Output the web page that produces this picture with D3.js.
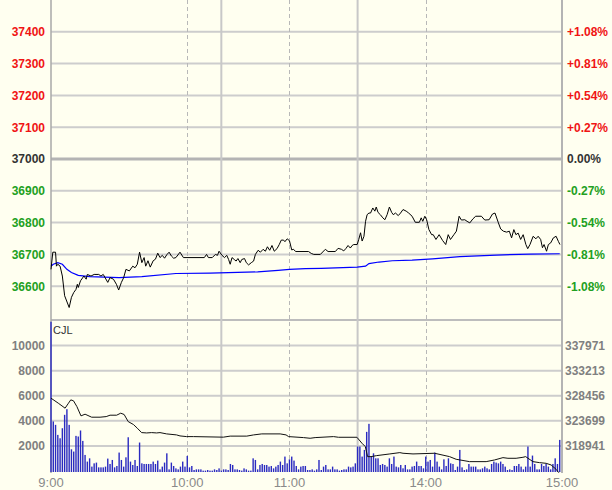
<!DOCTYPE html>
<html><head><meta charset="utf-8">
<script src="https://cdn.jsdelivr.net/npm/d3@7"></script>
<style>html,body{margin:0;padding:0;background:#fffff0;} svg{display:block;}</style>
</head><body><svg id="c" width="612" height="490"></svg>
<script>
// ---------- data ----------
const preClose = 37000;
const priceDomain = [36500, 37500];
const priceTicks = [37400, 37300, 37200, 37100, 37000, 36900, 36800, 36700, 36600];
const pctLabels = ["+1.08%", "+0.81%", "+0.54%", "+0.27%", "0.00%", "-0.27%", "-0.54%", "-0.81%", "-1.08%"];
const volDomain = [0, 12000];
const volTicks = [2000, 4000, 6000, 8000, 10000];
const oiDomain = [314183.5, 342728.5];
const oiTicks = [318941, 323699, 328456, 333213, 337971];
const minuteDomain = [0, 225];
const timeLabels = ["9:00", "10:00", "11:00", "14:00", "15:00"];
const timeLabelIdx = [0, 60, 105, 165, 225];
const dashedIdx = [60, 105, 165];
const sessionIdx = [75, 135];
const panelLabel = "CJL";

// price line (minute index, price)
const priceT = [0,0.8,2,2.4,3,4,5,6,8,9,10,11,11.6,12,13,14.5,15.5,16,17.6,19,21,22,23,25,26,27.5,28.8,29.8,31,32,33,34.5,36,37,38,39,40,41,41.7,42.7,43.7,45,46,47,48,49,50,51,52,53,54,55,56.8,58.3,67.5,68.5,69.3,71,72.4,73.3,74,75.3,76.4,77.4,78.2,78.9,79.7,80.7,81.5,82.3,83.3,84,85.2,86,87,88.2,89.2,90,91.2,92.2,93.4,94.4,95.3,96.3,97.3,98.3,99.5,100.5,101.4,102.4,103,104,105,106,106.7,107.8,113.4,114.6,115.7,118.6,120.8,122,125.2,126.4,127.9,128.9,129.9,130.8,131.8,132.6,133.3,134.8,135.5,136.3,137,137.8,138.5,139.2,140,140.7,141.7,142.6,143.2,144,145,146.1,147,148,149,150,150.7,151.7,152.9,153.9,155,156.4,157.5,159,160.4,162.2,163,163.7,164.6,165.4,166.4,167.6,168.3,169.5,170.9,172.4,173.8,174.9,175.9,177.4,178.5,179.7,180.7,182.2,183.2,184.4,185.8,187,189.5,191,192.9,194.4,195.5,197,198,199.2,200.6,201.8,202.8,203.8,204.7,205.7,206.8,207.9,209.1,209.9,210.9,212.3,213.5,214.5,215.6,216.4,217.1,218.2,219,220,221.2,222.4,223.4,224.1];
const priceV = [36653,36707,36707,36663,36669,36663,36632,36570,36533,36565,36580,36590,36606,36596,36617,36632,36622,36637,36632,36637,36637,36632,36637,36612,36627,36622,36606,36588,36612,36627,36653,36648,36663,36658,36669,36707,36674,36690,36663,36680,36660,36680,36685,36704,36690,36697,36688,36699,36707,36695,36688,36690,36707,36690,36690,36700,36690,36690,36700,36697,36710,36697,36690,36697,36684,36669,36690,36684,36679,36687,36674,36684,36687,36674,36667,36674,36679,36700,36713,36707,36716,36710,36724,36713,36728,36710,36718,36731,36745,36745,36740,36749,36743,36714,36716,36709,36709,36703,36700,36700,36716,36709,36709,36719,36716,36711,36719,36728,36720,36728,36731,36731,36747,36768,36742,36757,36804,36825,36830,36830,36846,36836,36849,36832,36825,36815,36809,36825,36849,36832,36825,36830,36822,36830,36841,36836,36830,36820,36801,36801,36815,36804,36820,36809,36778,36762,36762,36747,36762,36744,36731,36762,36747,36762,36773,36820,36808,36809,36804,36799,36812,36820,36820,36808,36809,36827,36830,36799,36780,36773,36770,36773,36752,36778,36762,36767,36747,36762,36731,36718,36731,36757,36749,36757,36747,36721,36731,36710,36731,36736,36752,36757,36741,36731];

// average price line
const avgT = [0,1,3,5,7,9,12,17,30,40,55,70,91,100,105,112,119,134.8,138.5,140,144.4,150.3,159,168,180,196,211,224];
const avgV = [36663,36669,36674,36669,36653,36643,36634,36630,36627,36630,36640,36641,36645,36650,36653,36655,36656,36660,36663,36671,36676,36680,36682,36686,36693,36698,36701,36702];

// volume per minute (t = 0..224)
const volume = [11900,3950,3680,2880,2610,3410,4480,4930,3680,1730,1550,2800,2750,3230,2400,1280,750,1010,350,610,
670,290,290,290,350,990,560,880,290,400,1470,880,350,1090,2690,750,480,880,400,2270,
610,560,560,560,560,750,560,830,130,350,670,1410,130,670,400,210,130,350,750,350,
1200,290,400,80,130,130,130,30,30,80,30,30,130,80,210,30,130,130,80,560,
480,130,130,80,30,210,130,30,30,1010,880,130,480,560,480,480,350,400,210,350,
480,750,480,1150,610,930,1150,830,400,130,350,400,400,80,80,130,30,130,880,80,
350,480,130,130,350,130,130,30,80,130,130,350,290,350,610,1950,1950,1150,1680,3120,
3760,1150,1410,1010,1010,480,560,480,350,1010,560,1150,350,290,480,213,480,130,130,350,
400,750,400,400,213,1150,750,880,350,1470,750,350,130,930,400,1010,610,560,80,350,
1680,290,80,130,560,350,350,350,130,130,213,350,213,130,560,750,670,610,750,560,
350,80,130,80,400,400,560,350,130,350,1950,350,1230,560,130,130,560,400,560,350,
130,560,1010,560,2480];

// CJL (open interest) line
const oiT = [0,3.2,6.2,7.7,8.7,9.9,11.4,13.2,15,17.9,21.6,24.3,26,28.9,30.7,32.2,34,36.3,38,39.9,42.1,44.3,46.5,48,50.9,55.3,56.8,59.7,62.7,75.9,78.9,86.2,89.2,92.8,100.9,103.5,104.6,111.2,114.1,116.3,124.4,126.6,134.7,136.9,138.4,139.4,140.9,143.4,149.2,153.6,155,159.4,168.9,175.5,178.4,184.3,191.6,195.3,199,201.2,204.8,207.8,209,212.2,215.1,218,220.2,222.4,223.6];
const oiV = [327996,327047,326098,327047,327673,327500,326402,324636,324959,324389,324389,324500,324769,324769,325149,324900,323554,323000,322301,321466,321400,321466,321400,321466,321219,321029,320839,320707,320707,320600,320800,320800,321029,321219,321219,321029,320707,320517,320390,320517,320707,320580,320580,319454,318808,316910,316910,317100,317422,317670,317550,317422,317550,316910,316404,315961,315961,316278,316720,316594,316594,316784,316910,315961,315770,315644,315328,314505,313860];

// ---------- drawing ----------
const svg = d3.select("#c");
const W = 612, H = 490;
const L = 51, R = 562, priceTop = 0, priceBot = 318, volTop = 320.5, volBot = 471;
const font = "'Liberation Sans', Arial, sans-serif";

svg.append("rect").attr("width", W).attr("height", H).attr("fill", "#fffff0");

const x = d3.scaleLinear().domain(minuteDomain).range([L, R]);
const yP = d3.scaleLinear().domain(priceDomain).range([priceBot, priceTop]);
const yV = d3.scaleLinear().domain(volDomain).range([volBot, volTop]);
const yOI = d3.scaleLinear().domain(oiDomain).range([volBot, volTop]);

const g = svg.append("g");

// horizontal price grid
g.selectAll(".pg").data(priceTicks).enter().append("line")
  .attr("x1", L).attr("x2", R)
  .attr("y1", d => yP(d)).attr("y2", d => yP(d))
  .attr("stroke", d => d === preClose ? "#b4b4b4" : "#cdcdcd")
  .attr("stroke-width", d => d === preClose ? 3 : 2);

// volume grid
g.selectAll(".vg").data(volTicks).enter().append("line")
  .attr("x1", L).attr("x2", R)
  .attr("y1", d => yV(d)).attr("y2", d => yV(d))
  .attr("stroke", "#cdcdcd").attr("stroke-width", 2);

// panel separator
g.append("line").attr("x1", L).attr("x2", R).attr("y1", 320).attr("y2", 320)
  .attr("stroke", "#bdbdbd").attr("stroke-width", 2);

// vertical lines
g.selectAll(".dv").data(dashedIdx).enter().append("line")
  .attr("x1", d => Math.round(x(d)) + 0.5).attr("x2", d => Math.round(x(d)) + 0.5)
  .attr("y1", 0).attr("y2", volBot)
  .attr("stroke", "#b8b8b8").attr("stroke-width", 1).attr("stroke-dasharray", "4,3");
g.selectAll(".sv").data(sessionIdx).enter().append("line")
  .attr("x1", d => x(d)).attr("x2", d => x(d))
  .attr("y1", 0).attr("y2", volBot)
  .attr("stroke", "#c8c8c8").attr("stroke-width", 2);

// borders
g.append("line").attr("x1", L).attr("x2", L).attr("y1", 0).attr("y2", volBot + 2)
  .attr("stroke", "#a8a8a8").attr("stroke-width", 1.5);
g.append("line").attr("x1", R).attr("x2", R).attr("y1", 0).attr("y2", volBot + 2)
  .attr("stroke", "#b4b4b4").attr("stroke-width", 2);

// volume bars
g.selectAll(".bar").data(volume).enter().append("rect")
  .attr("x", (d, i) => x(i) - 0.7)
  .attr("width", 1.4)
  .attr("y", d => yV(d))
  .attr("height", d => volBot + 1 - yV(d))
  .attr("fill", "#2a2ac0");

// CJL line
const oiData = oiT.map((t, i) => [t, oiV[i]]);
g.append("path").datum(oiData)
  .attr("d", d3.line().x(d => x(d[0])).y(d => yOI(d[1])))
  .attr("fill", "none").attr("stroke", "#111").attr("stroke-width", 1);

// avg line
const avgData = avgT.map((t, i) => [t, avgV[i]]);
g.append("path").datum(avgData)
  .attr("d", d3.line().x(d => x(d[0])).y(d => yP(d[1])))
  .attr("fill", "none").attr("stroke", "#0000ff").attr("stroke-width", 1.2);

// price line
const priceData = priceT.map((t, i) => [t, priceV[i]]);
g.append("path").datum(priceData)
  .attr("d", d3.line().x(d => x(d[0])).y(d => yP(d[1])))
  .attr("fill", "none").attr("stroke", "#000").attr("stroke-width", 1);

// labels
const colorFor = v => v > preClose ? "#f01414" : (v < preClose ? "#22a022" : "#333333");
svg.selectAll(".pl").data(priceTicks).enter().append("text")
  .attr("x", 45).attr("y", d => yP(d)).attr("dy", "0.36em")
  .attr("text-anchor", "end").attr("font-family", font).attr("font-weight", "bold")
  .attr("font-size", "12px").attr("fill", colorFor).text(d => d);
svg.selectAll(".pr").data(priceTicks).enter().append("text")
  .attr("x", 567).attr("y", d => yP(d)).attr("dy", "0.36em")
  .attr("text-anchor", "start").attr("font-family", font).attr("font-weight", "bold")
  .attr("font-size", "12px").attr("fill", colorFor).text((d, i) => pctLabels[i]);

svg.selectAll(".vl").data(volTicks).enter().append("text")
  .attr("x", 45).attr("y", d => yV(d)).attr("dy", "0.36em")
  .attr("text-anchor", "end").attr("font-family", font).attr("font-weight", "bold")
  .attr("font-size", "12px").attr("fill", "#808080").text(d => d);
svg.selectAll(".ol").data(oiTicks).enter().append("text")
  .attr("x", 565).attr("y", d => yOI(d)).attr("dy", "0.36em")
  .attr("text-anchor", "start").attr("font-family", font).attr("font-weight", "bold")
  .attr("font-size", "12px").attr("fill", "#808080").text(d => d);

svg.append("text").attr("x", 53).attr("y", 334).attr("font-family", font)
  .attr("font-size", "11px").attr("fill", "#333").text(panelLabel);

svg.selectAll(".xl").data(timeLabels).enter().append("text")
  .attr("x", (d, i) => x(timeLabelIdx[i])).attr("y", 487)
  .attr("text-anchor", "middle").attr("font-family", font)
  .attr("font-size", "13px").attr("fill", "#8a8a8a").text(d => d);
</script>
</body></html>
